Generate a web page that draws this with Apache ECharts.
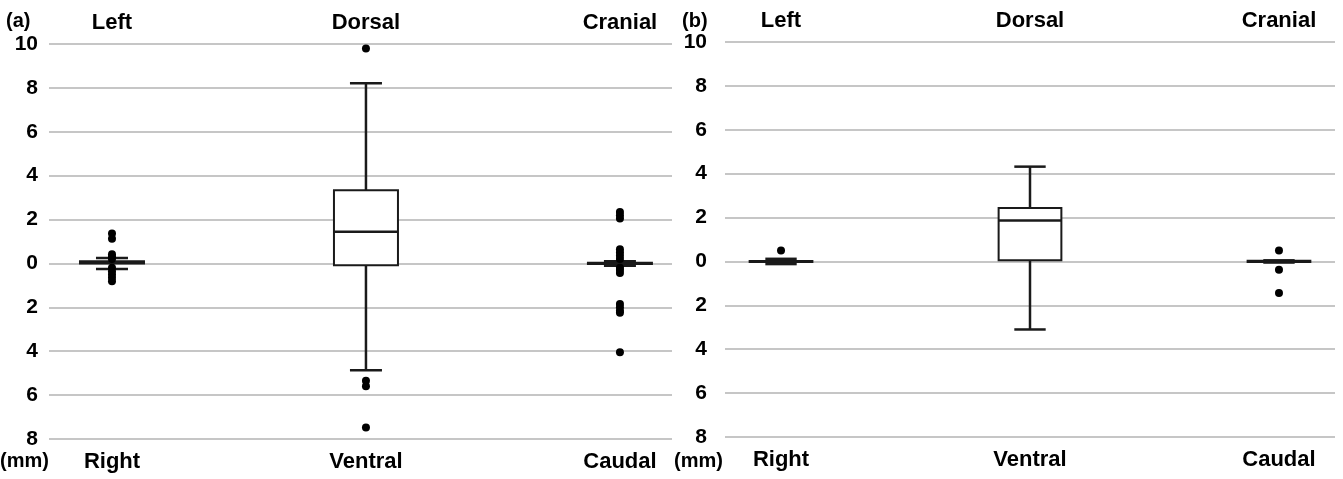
<!DOCTYPE html>
<html>
<head>
<meta charset="utf-8">
<title>Displacement box plots</title>
<script src="https://cdn.jsdelivr.net/npm/echarts@6/dist/echarts.min.js"></script>
<style>
  html, body { margin: 0; padding: 0; background: #fff; }
  #chart { width: 1343px; height: 479px; }
</style>
</head>
<body>
<div id="chart"></div>
<script>
// 方向标签 (上 / 下)
const topNames = ['Left', 'Dorsal', 'Cranial']
const bottomNames = ['Right', 'Ventral', 'Caudal']
const positions = [1, 2, 3]

// y 轴刻度
const yTicks = [-8, -6, -4, -2, 0, 2, 4, 6, 8, 10]

// (a) 箱线: [min, Q1, median, Q3, max]
const boxA = [
  [-0.25, 0.0, 0.05, 0.1, 0.25],
  [-4.87, -0.08, 1.44, 3.33, 8.21],
  [-0.1, -0.03, 0.0, 0.03, 0.1]
]
// (a) 离群点
const outA_left = [1.37, 1.12, 0.42, 0.3, 0.2, -0.2, -0.35, -0.5, -0.65, -0.81]
const outA_dorsal = [9.8, -5.35, -5.6, -7.48]
const outA_cranial = [2.35, 2.2, 2.05, 0.65, 0.5, 0.35, 0.2, -0.2, -0.3, -0.43, -1.85, -2.0, -2.15, -2.25, -4.05]

// (b) 箱线
const boxB = [
  [-0.12, -0.02, 0.0, 0.02, 0.12],
  [-3.1, 0.05, 1.87, 2.43, 4.32],
  [-0.05, -0.03, 0.0, 0.03, 0.05]
]
// (b) 离群点
const outB_left = [0.5]
const outB_dorsal = []
const outB_cranial = [0.5, -0.38, -1.44]

const FONT = 'Liberation Sans, Arial, sans-serif'
const INK = '#1a1a1a'

// 画箱子
function renderBox(params, api) {
  const x = api.value(0)
  const pMin = api.coord([x, api.value(1)])
  const pQ1 = api.coord([x, api.value(2)])
  const pMed = api.coord([x, api.value(3)])
  const pQ3 = api.coord([x, api.value(4)])
  const pMax = api.coord([x, api.value(5)])
  const half = api.size([0.126, 0])[0]
  const cap = api.size([0.063, 0])[0]
  const cx = pMed[0]
  const line = (x1, y1, x2, y2, w) => ({
    type: 'line',
    shape: { x1, y1, x2, y2 },
    style: { stroke: INK, lineWidth: w }
  })
  return {
    type: 'group',
    children: [
      line(cx, pQ3[1], cx, pMax[1], 2.5),
      line(cx, pQ1[1], cx, pMin[1], 2.5),
      line(cx - cap, pMax[1], cx + cap, pMax[1], 2.5),
      line(cx - cap, pMin[1], cx + cap, pMin[1], 2.5),
      {
        type: 'rect',
        shape: { x: cx - half, y: pQ3[1], width: half * 2, height: pQ1[1] - pQ3[1] },
        style: { fill: '#fff', stroke: INK, lineWidth: 2 }
      },
      line(cx - half, pMed[1], cx + half, pMed[1], 2.5)
    ]
  }
}

function boxData(boxes) {
  return boxes.map((b, i) => [positions[i]].concat(b))
}

function outlierData(lists) {
  const res = []
  lists.forEach((list, i) => {
    list.forEach(v => res.push([positions[i], v]))
  })
  return res
}

function makeXAxes(gridIndex, min, max) {
  const common = {
    type: 'value',
    gridIndex,
    min,
    max,
    axisLine: { show: false },
    axisTick: { show: false },
    splitLine: { show: false }
  }
  return [
    Object.assign({}, common, {
      position: 'top',
      axisLabel: {
        customValues: positions,
        formatter: v => topNames[Math.round(v) - 1],
        color: '#000', fontWeight: 'bold', fontSize: 22, fontFamily: FONT, margin: 10
      }
    }),
    Object.assign({}, common, {
      position: 'bottom',
      axisLabel: {
        customValues: positions,
        formatter: v => bottomNames[Math.round(v) - 1],
        color: '#000', fontWeight: 'bold', fontSize: 22, fontFamily: FONT, margin: 12
      }
    })
  ]
}

function makeYAxis(gridIndex, margin) {
  return {
    type: 'value',
    gridIndex,
    min: yTicks[0],
    max: yTicks[yTicks.length - 1],
    interval: 2,
    axisLine: { show: false },
    axisTick: { show: false },
    axisLabel: {
      formatter: v => String(Math.abs(v)),
      color: '#000', fontWeight: 'bold', fontSize: 21, fontFamily: FONT, margin
    },
    splitLine: { lineStyle: { color: '#b3b3b3', width: 1.5 } }
  }
}

const chart = echarts.init(document.getElementById('chart'), null, { renderer: 'canvas' })

const option = {
  animation: false,
  backgroundColor: '#fff',
  grid: [
    { left: 49, right: 671, top: 44, bottom: 40 },
    { left: 725, right: 8, top: 42, bottom: 42 }
  ],
  xAxis: makeXAxes(0, 0.752, 3.205).concat(makeXAxes(1, 0.775, 3.225)),
  yAxis: [makeYAxis(0, 11), makeYAxis(1, 18)],
  graphic: [
    { type: 'text', left: 6, top: 11, style: { text: '(a)', font: 'bold 20px ' + FONT, fill: '#000' } },
    { type: 'text', left: 0, top: 451, style: { text: '(mm)', font: 'bold 20px ' + FONT, fill: '#000' } },
    { type: 'text', left: 682, top: 11, style: { text: '(b)', font: 'bold 20px ' + FONT, fill: '#000' } },
    { type: 'text', left: 674, top: 451, style: { text: '(mm)', font: 'bold 20px ' + FONT, fill: '#000' } }
  ],
  series: [
    {
      type: 'custom',
      xAxisIndex: 0,
      yAxisIndex: 0,
      renderItem: renderBox,
      encode: { x: 0, y: [1, 2, 3, 4, 5] },
      data: boxData(boxA),
      z: 3
    },
    {
      type: 'scatter',
      xAxisIndex: 0,
      yAxisIndex: 0,
      symbolSize: 8,
      itemStyle: { color: '#000', opacity: 1 },
      data: outlierData([outA_left, outA_dorsal, outA_cranial]),
      z: 4
    },
    {
      type: 'custom',
      xAxisIndex: 2,
      yAxisIndex: 1,
      renderItem: renderBox,
      encode: { x: 0, y: [1, 2, 3, 4, 5] },
      data: boxData(boxB),
      z: 3
    },
    {
      type: 'scatter',
      xAxisIndex: 2,
      yAxisIndex: 1,
      symbolSize: 8,
      itemStyle: { color: '#000', opacity: 1 },
      data: outlierData([outB_left, outB_dorsal, outB_cranial]),
      z: 4
    }
  ]
}

chart.setOption(option)
</script>
</body>
</html>
